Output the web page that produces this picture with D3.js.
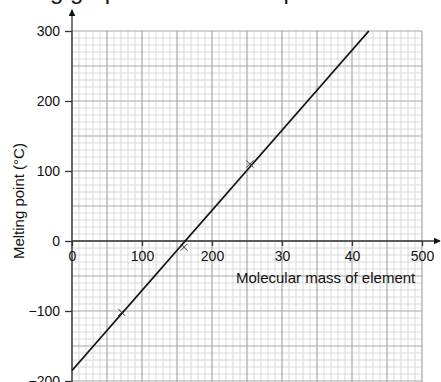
<!DOCTYPE html>
<html>
<head>
<meta charset="utf-8">
<script src="https://cdn.jsdelivr.net/npm/d3@7"></script>
<style>
  html, body { margin: 0; padding: 0; background: #fff; overflow: hidden; }
  svg { display: block; font-family: "Liberation Sans", Arial, sans-serif; overflow: hidden; }
</style>
</head>
<body>
<svg id="chart" width="441" height="382"></svg>
<script>
// ---- data ----
const xTickValues = [0, 100, 200, 300, 400, 500];
const xTickLabels = ["0", "100", "200", "30", "40", "500"];
const yTickValues = [300, 200, 100, 0, -100, -200];
const yTickLabels = ["300", "200", "100", "0", "\u2212100", "\u2212200"];
const pointMass = [71, 160, 254];
const pointMelt = [-102, -9, 110];
const lineMass = [0, 424];
const lineMelt = [-185, 300];
const titleText = "Study the following graph and then complete the table.";
const xLabel = "Molecular mass of element";
const yLabel = "Melting point (\u00B0C)";

// ---- setup ----
const svg = d3.select("#chart");
const x = d3.scaleLinear().domain([0, 500]).range([72, 422]);
const y = d3.scaleLinear().domain([-200, 300]).range([381, 31]);

// partially cropped title text (only its descenders show)
const title = svg.append("text")
  .attr("y", -1.5)
  .attr("font-size", 24)
  .attr("fill", "#111")
  .text(titleText);
const probe = svg.append("text").attr("font-size", 24).text("Study the followin");
const pw = probe.node().getComputedTextLength();
probe.remove();
title.attr("x", 50 - pw);

// grid
const grid = svg.append("g");
const minorX = d3.range(0, 501, 10).filter(d => d % 50 !== 0);
const minorY = d3.range(-200, 301, 10).filter(d => d % 50 !== 0);
const majorX = d3.range(0, 501, 50);
const majorY = d3.range(-200, 301, 50);
grid.selectAll("line.mx").data(minorX).join("line")
  .attr("x1", d => x(d)).attr("x2", d => x(d))
  .attr("y1", y(300)).attr("y2", 382)
  .attr("stroke", "#d9d9d9").attr("stroke-width", 1);
grid.selectAll("line.my").data(minorY).join("line")
  .attr("y1", d => y(d)).attr("y2", d => y(d))
  .attr("x1", x(0)).attr("x2", x(500))
  .attr("stroke", "#d9d9d9").attr("stroke-width", 1);
grid.selectAll("line.Mx").data(majorX).join("line")
  .attr("x1", d => x(d)).attr("x2", d => x(d))
  .attr("y1", y(300)).attr("y2", 382)
  .attr("stroke", "#a8a8a8").attr("stroke-width", 1.2);
grid.selectAll("line.My").data(majorY).join("line")
  .attr("y1", d => y(d)).attr("y2", d => y(d))
  .attr("x1", x(0)).attr("x2", x(500))
  .attr("stroke", "#a8a8a8").attr("stroke-width", 1.2);

// arrow marker
const defs = svg.append("defs");
defs.append("marker").attr("id", "arr")
  .attr("viewBox", "0 0 10 10").attr("refX", 9).attr("refY", 5)
  .attr("markerWidth", 7).attr("markerHeight", 7)
  .attr("markerUnits", "userSpaceOnUse")
  .attr("orient", "auto")
  .append("path").attr("d", "M0,0 L10,5 L0,10 Z").attr("fill", "#111");

// axes lines
svg.append("line")
  .attr("x1", x(0)).attr("x2", x(0)).attr("y1", 382).attr("y2", 10)
  .attr("stroke", "#333").attr("stroke-width", 1.3).attr("marker-end", "url(#arr)");
svg.append("line")
  .attr("x1", x(0)).attr("x2", 440).attr("y1", y(0)).attr("y2", y(0))
  .attr("stroke", "#333").attr("stroke-width", 1.3).attr("marker-end", "url(#arr)");

// y axis ticks
const yAxis = d3.axisLeft(y).tickValues(yTickValues)
  .tickFormat((d, i) => yTickLabels[i]).tickSize(7).tickPadding(5);
const gy = svg.append("g").attr("transform", `translate(${x(0)},0)`).call(yAxis);
gy.select(".domain").remove();
gy.selectAll("line").attr("stroke", "#333").attr("stroke-width", 1.3);
gy.selectAll("text").attr("font-size", 14).attr("fill", "#111")
  .attr("font-family", '"Liberation Sans", Arial, sans-serif');

// x axis ticks
const xAxis = d3.axisBottom(x).tickValues(xTickValues)
  .tickFormat((d, i) => xTickLabels[i]).tickSize(5).tickPadding(5);
const gx = svg.append("g").attr("transform", `translate(0,${y(0)})`).call(xAxis);
gx.select(".domain").remove();
gx.selectAll("line").attr("stroke", "#333").attr("stroke-width", 1.3);
gx.selectAll("text").attr("font-size", 14).attr("fill", "#111")
  .attr("font-family", '"Liberation Sans", Arial, sans-serif');

// axis labels
svg.append("text").attr("x", 236).attr("y", 283)
  .attr("font-size", 15).attr("fill", "#111").text(xLabel);
svg.append("text")
  .attr("transform", `translate(24,${y(57)}) rotate(-90)`)
  .attr("text-anchor", "middle")
  .attr("font-size", 15).attr("fill", "#111").text(yLabel);

// best-fit line
const lineData = lineMass.map((m, i) => [m, lineMelt[i]]);
svg.append("path")
  .attr("d", d3.line().x(d => x(d[0])).y(d => y(d[1]))(lineData))
  .attr("stroke", "#111").attr("stroke-width", 1.8).attr("fill", "none");

// plotted crosses
const pts = pointMass.map((m, i) => [m, pointMelt[i]]);
const s = 3.5;
svg.append("g").selectAll("path").data(pts).join("path")
  .attr("d", d => {
    const cx = x(d[0]), cy = y(d[1]);
    return `M${cx - s},${cy - s}L${cx + s},${cy + s}M${cx - s},${cy + s}L${cx + s},${cy - s}`;
  })
  .attr("stroke", "#333").attr("stroke-width", 1).attr("fill", "none");
</script>
</body>
</html>
